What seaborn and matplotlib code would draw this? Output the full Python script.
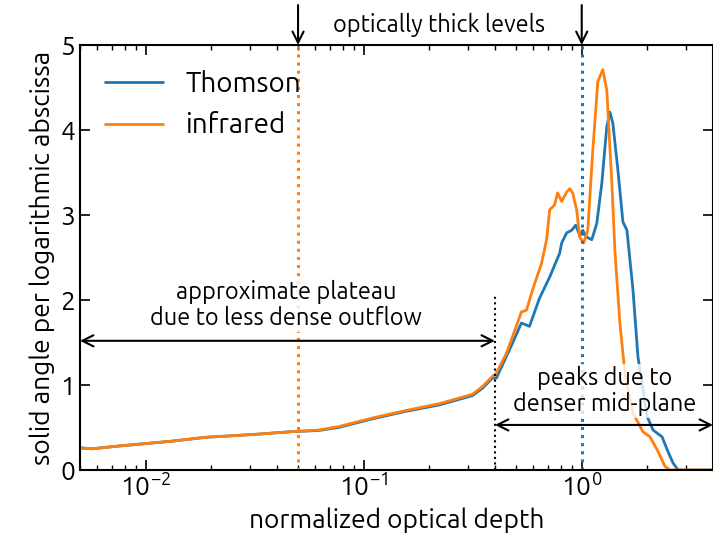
import numpy as np
import pandas as pd
import matplotlib
matplotlib.use("Agg")
import matplotlib.pyplot as plt
import seaborn as sns

# ---- data ----
tau_common = [0.005, 0.0057, 0.0074, 0.0099, 0.0133, 0.0189, 0.0239, 0.0321, 0.0461,
              0.0621, 0.0767, 0.109, 0.156, 0.222, 0.315, 0.350, 0.389]
omega_common = [0.26, 0.25, 0.28, 0.31, 0.34, 0.385, 0.40, 0.42, 0.45,
                0.47, 0.51, 0.61, 0.70, 0.78, 0.89, 0.98, 1.10]

tau_ir_high = [0.406, 0.451, 0.501, 0.529, 0.558, 0.595, 0.654, 0.690, 0.713, 0.751, 0.775,
               0.809, 0.853, 0.881, 0.909, 0.948, 0.979, 1.021, 1.066, 1.124, 1.185, 1.249,
               1.303, 1.375, 1.419, 1.496, 1.578, 1.718, 1.909, 2.056, 2.216, 2.412, 2.545, 4.0]
omega_ir_high = [1.14, 1.37, 1.69, 1.86, 1.88, 2.12, 2.43, 2.71, 3.06, 3.12, 3.26,
                 3.16, 3.27, 3.31, 3.26, 3.06, 2.74, 2.67, 2.82, 3.76, 4.57, 4.71,
                 4.47, 3.37, 2.59, 1.73, 1.14, 0.67, 0.45, 0.39, 0.24, 0.04, 0.0, 0.0]

tau_th_high = [0.406, 0.481, 0.529, 0.576, 0.640, 0.713, 0.792, 0.809, 0.853, 0.899, 0.938,
               0.979, 1.011, 1.054, 1.112, 1.172, 1.236, 1.303, 1.346, 1.389, 1.465, 1.545,
               1.612, 1.718, 1.811, 1.994, 2.124, 2.337, 2.464, 2.625, 2.77, 4.0]
omega_th_high = [1.08, 1.49, 1.73, 1.69, 2.02, 2.27, 2.55, 2.67, 2.79, 2.82, 2.88,
                 2.76, 2.82, 2.74, 2.71, 2.90, 3.37, 4.04, 4.21, 4.08, 3.53, 2.92,
                 2.82, 2.12, 1.33, 0.63, 0.47, 0.39, 0.24, 0.08, 0.0, 0.0]

thomson_offset = [0.0, 0.0, 0.0, 0.0, 0.0, 0.0, 0.0, 0.0, 0.0,
                  -0.005, -0.01, -0.01, -0.01, -0.015, -0.015, -0.02, -0.02]

series_names = ["Thomson", "infrared"]
series_colors = ["#1f77b4", "#ff7f0e"]
thick_levels = [1.0, 0.05]
plateau_edge = 0.4

rows = []
for t, o, d in zip(tau_common, omega_common, thomson_offset):
    rows.append(("Thomson", t, o + d))
for t, o in zip(tau_th_high, omega_th_high):
    rows.append(("Thomson", t, o))
for t, o in zip(tau_common, omega_common):
    rows.append(("infrared", t, o))
for t, o in zip(tau_ir_high, omega_ir_high):
    rows.append(("infrared", t, o))
df = pd.DataFrame(rows, columns=["band", "tau", "omega"])

sns.set_style("ticks")
fam = ["Ubuntu", "Lato", "DejaVu Sans"]
plt.rcParams["font.family"] = fam
for k in ["text.color", "axes.labelcolor", "xtick.color", "ytick.color", "axes.edgecolor"]:
    plt.rcParams[k] = "black"
plt.rcParams["mathtext.fontset"] = "custom"
plt.rcParams["mathtext.rm"] = "Ubuntu"
plt.rcParams["mathtext.it"] = "Ubuntu"
plt.rcParams["mathtext.default"] = "rm"

fig = plt.figure(figsize=(7.13, 5.49), dpi=100)
ax = fig.add_axes([80/713, 79/549, 633/713, 425/549])

sns.lineplot(data=df, x="tau", y="omega", hue="band", hue_order=series_names,
             palette=series_colors, estimator=None, sort=True, lw=2, ax=ax)
ax.set_xscale("log")
ax.set_xlim(0.005, 4.0)
ax.set_ylim(0, 5)
ax.set_yticks([0, 1, 2, 3, 4, 5])

for lvl, c in zip(thick_levels, series_colors):
    ax.axvline(lvl, color=c, ls=":", lw=2.2)
ax.plot([plateau_edge, plateau_edge], [0, 2.05], color="black", ls=":", lw=1.5)

for lvl in thick_levels:
    ax.annotate("", xy=(lvl, 5.0), xytext=(lvl, 5.47), annotation_clip=False,
                arrowprops=dict(arrowstyle="->", lw=1.5, color="black", mutation_scale=20,
                                shrinkA=0, shrinkB=0))
ax.text(0.222, 5.235, "optically thick levels", ha="center", va="center", fontsize=17, clip_on=False)

ax.annotate("", xy=(0.005, 1.52), xytext=(plateau_edge, 1.52),
            arrowprops=dict(arrowstyle="<->", lw=1.5, color="black", mutation_scale=20,
                            shrinkA=0, shrinkB=0))
ax.annotate("", xy=(plateau_edge, 0.53), xytext=(4.0, 0.53), annotation_clip=False,
            arrowprops=dict(arrowstyle="<->", lw=1.5, color="black", mutation_scale=20,
                            shrinkA=0, shrinkB=0))
bb = dict(facecolor="white", edgecolor="none", alpha=0.8, pad=1)
ax.text(0.0442, 1.94, "approximate plateau\ndue to less dense outflow", ha="center", va="center",
        fontsize=17, bbox=bb, linespacing=1.1)
ax.text(1.28, 0.93, "peaks due to\ndenser mid-plane", ha="center", va="center",
        fontsize=17, bbox=bb, linespacing=1.1)

ax.set_xlabel("normalized optical depth", fontsize=19)
ax.set_ylabel("solid angle per logarithmic abscissa", fontsize=19)
ax.tick_params(which="both", direction="in", top=True, right=True, labelsize=19)
ax.tick_params(which="major", length=7, width=1.2)
ax.tick_params(which="minor", length=3.5, width=1)
for s in ax.spines.values():
    s.set_linewidth(1.5)
leg = ax.legend(loc="upper left", frameon=False, fontsize=20, handlelength=2.1)
leg.set_title(None)

fig.savefig("out.png", dpi=100)
